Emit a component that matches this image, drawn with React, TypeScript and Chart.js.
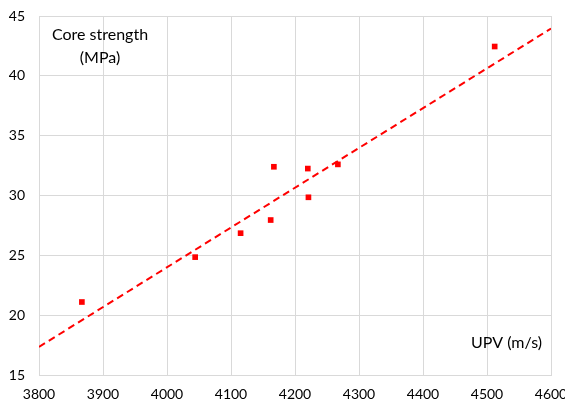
import React, { useEffect, useRef } from "react";
import { Chart, registerables } from "chart.js";

Chart.register(...registerables);

const upv = [3867, 4044, 4115, 4162, 4167, 4220, 4221, 4267, 4512];
const coreStrength = [21.1, 24.85, 26.85, 27.95, 32.4, 32.25, 29.85, 32.6, 42.45];
const trendX = [3800, 4600];
const trendY = [17.35, 43.95];
const xTicks = [3800, 3900, 4000, 4100, 4200, 4300, 4400, 4500, 4600];
const yTicks = [15, 20, 25, 30, 35, 40, 45];

const FONT = "Lato, 'Open Sans', sans-serif";

const labelsPlugin = {
  id: "innerLabels",
  afterDraw(chart: any) {
    const ctx = chart.ctx;
    ctx.save();
    ctx.fillStyle = "#000";
    ctx.font = `16px ${FONT}`;
    ctx.textBaseline = "middle";
    ctx.textAlign = "center";
    ctx.fillText("Core strength", 100, 35);
    ctx.fillText("(MPa)", 100, 58);
    ctx.textAlign = "right";
    ctx.fillText("UPV (m/s)", 542, 343);
    ctx.restore();
  },
};

export default function App() {
  const ref = useRef<HTMLCanvasElement | null>(null);
  useEffect(() => {
    if (!ref.current) return;
    const chart = new Chart(ref.current, {
      type: "scatter",
      data: {
        datasets: [
          {
            label: "Core strength",
            data: upv.map((x, i) => ({ x, y: coreStrength[i] })),
            pointStyle: "rect",
            pointRadius: 4,
            backgroundColor: "#ff0000",
            borderColor: "#ff0000",
            borderWidth: 0,
            order: 1,
          },
          {
            label: "Trend",
            type: "line",
            data: trendX.map((x, i) => ({ x, y: trendY[i] })),
            borderColor: "#ff0000",
            borderWidth: 2,
            borderDash: [7, 4.5],
            pointRadius: 0,
            fill: false,
            order: 2,
          },
        ],
      },
      options: {
        animation: false,
        responsive: false,
        maintainAspectRatio: false,
        layout: { padding: { top: 16, right: 14, left: 0, bottom: 0 } },
        plugins: { legend: { display: false }, tooltip: { enabled: false } },
        scales: {
          x: {
            type: "linear",
            min: 3800,
            max: 4600,
            afterBuildTicks: (s: any) => {
              s.ticks = xTicks.map((v) => ({ value: v }));
            },
            afterFit: (s: any) => {
              s.height = 28;
              s.paddingLeft = 0;
              s.paddingRight = 0;
            },
            grid: { color: "#d9d9d9", lineWidth: 1, drawTicks: false },
            border: { color: "#d9d9d9" },
            ticks: {
              color: "#000",
              font: { family: FONT, size: 14 },
              padding: 11,
              maxRotation: 0,
              autoSkip: false,
              callback: (v: any) => String(v),
            },
          },
          y: {
            type: "linear",
            min: 15,
            max: 45,
            afterBuildTicks: (s: any) => {
              s.ticks = yTicks.map((v) => ({ value: v }));
            },
            afterFit: (s: any) => {
              s.width = 39;
              s.paddingTop = 0;
              s.paddingBottom = 0;
            },
            grid: { color: "#d9d9d9", lineWidth: 1, drawTicks: false },
            border: { color: "#d9d9d9" },
            ticks: {
              color: "#000",
              font: { family: FONT, size: 14 },
              padding: 14,
              autoSkip: false,
              callback: (v: any) => String(v),
            },
          },
        },
      },
      plugins: [
        labelsPlugin,
        {
          id: "rightTopBorder",
          afterDraw(chart: any) {
            const { ctx, chartArea } = chart;
            ctx.save();
            ctx.strokeStyle = "#d9d9d9";
            ctx.lineWidth = 1;
            ctx.beginPath();
            ctx.moveTo(chartArea.left, chartArea.top + 0.5);
            ctx.lineTo(chartArea.right + 0.5, chartArea.top + 0.5);
            ctx.lineTo(chartArea.right + 0.5, chartArea.bottom);
            ctx.stroke();
            ctx.restore();
          },
        },
      ],
    });
    return () => chart.destroy();
  }, []);
  return (
    <div style={{ position: "absolute", left: 0, top: 0, width: 565, height: 403, background: "#fff" }}>
      <canvas ref={ref} width={565} height={403} style={{ width: 565, height: 403 }} />
    </div>
  );
}
